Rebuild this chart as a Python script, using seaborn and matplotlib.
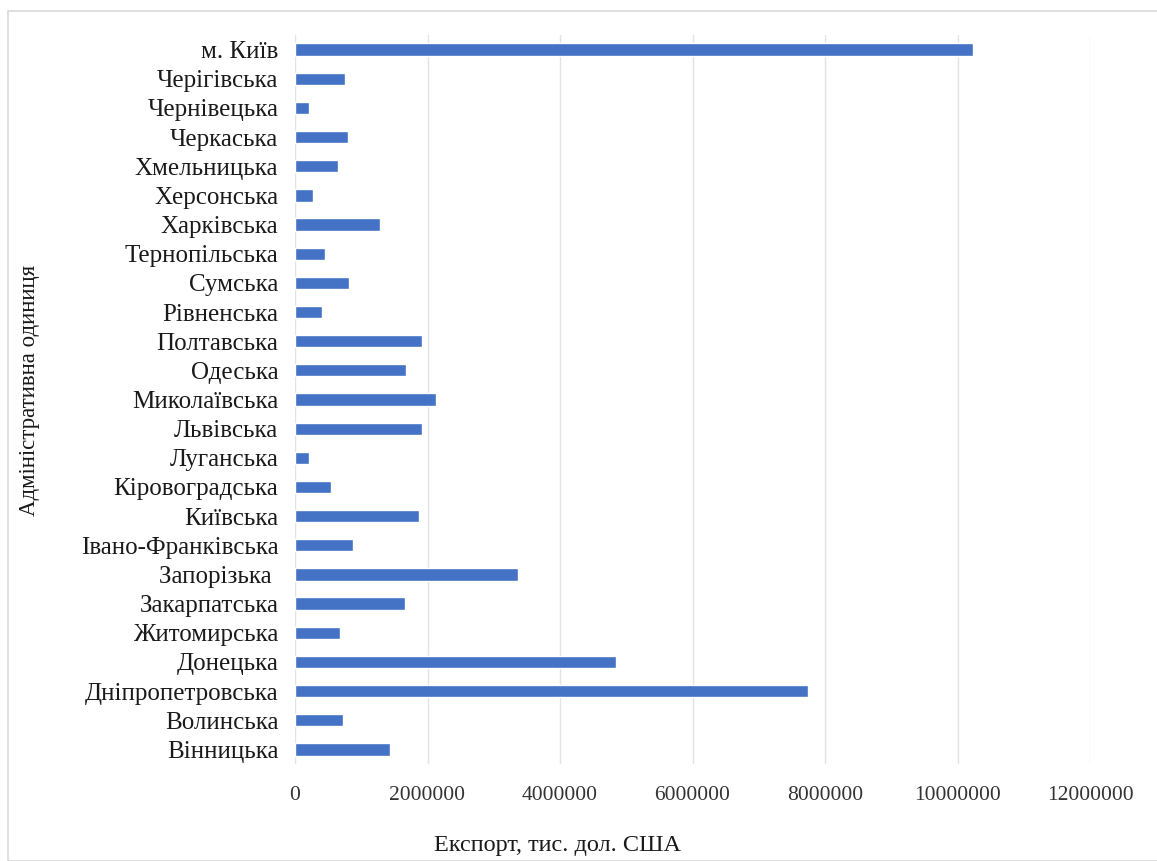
import pandas as pd
import seaborn as sns
import matplotlib.pyplot as plt
from matplotlib.patches import Rectangle

# regions, top to bottom as on the chart
regions = ["м. Київ", "Черігівська", "Чернівецька", "Черкаська", "Хмельницька",
           "Херсонська", "Харківська", "Тернопільська", "Сумська", "Рівненська",
           "Полтавська", "Одеська", "Миколаївська", "Львівська", "Луганська",
           "Кіровоградська", "Київська", "Івано-Франківська", "Запорізька ",
           "Закарпатська", "Житомирська", "Донецька", "Дніпропетровська",
           "Волинська", "Вінницька"]
# export, thousand USD
export = [10240000, 760000, 210000, 800000, 650000,
          270000, 1280000, 460000, 810000, 410000,
          1920000, 1680000, 2130000, 1910000, 210000,
          540000, 1870000, 880000, 3370000,
          1660000, 680000, 4850000, 7740000,
          730000, 1430000]
x_ticks = [0, 2000000, 4000000, 6000000, 8000000, 10000000, 12000000]

df = pd.DataFrame({"region": regions, "export": export})

sns.set_style("white")
plt.rcParams['font.family'] = ['Liberation Serif', 'DejaVu Serif']

fig = plt.figure(figsize=(11.57, 8.61), dpi=100)
ax = fig.add_axes([295 / 1157, 1 - 764 / 861, (1090 - 295) / 1157, (764 - 35) / 861])

sns.barplot(data=df, x="export", y="region", orient="h", color="#4472C4",
            width=0.42, ax=ax, saturation=1)

ax.set_xlim(0, 12000000)
ax.set_xticks(x_ticks)
ax.set_xticklabels([str(t) for t in x_ticks], fontsize=15.5, color="#333333")
ax.tick_params(axis="x", length=0, pad=16)
ax.tick_params(axis="y", length=0, pad=12, labelsize=18)
for lbl in ax.get_yticklabels():
    lbl.set_color("#1a1a1a")
ax.grid(axis="x", color="#E3E3E3", linewidth=1)
ax.set_axisbelow(True)
for s in ax.spines.values():
    s.set_visible(False)

ax.set_xlabel("Експорт, тис. дол. США", fontsize=17.5, color="#1a1a1a")
ax.xaxis.set_label_coords((558 - 295) / (1090 - 295), -(835 - 764) / (764 - 35))
ax.set_ylabel("Адміністративна одиниця", fontsize=16.5, color="#1a1a1a")
ax.yaxis.set_label_coords(-(295 - 40) / (1090 - 295), 0.513)

# chart border
fig.patches.append(Rectangle((8 / 1157, 0), 1.2, 1 - 11 / 861, transform=fig.transFigure,
                             fill=False, edgecolor="#D9D9D9", linewidth=1.2))

fig.savefig("out.png", dpi=100)
